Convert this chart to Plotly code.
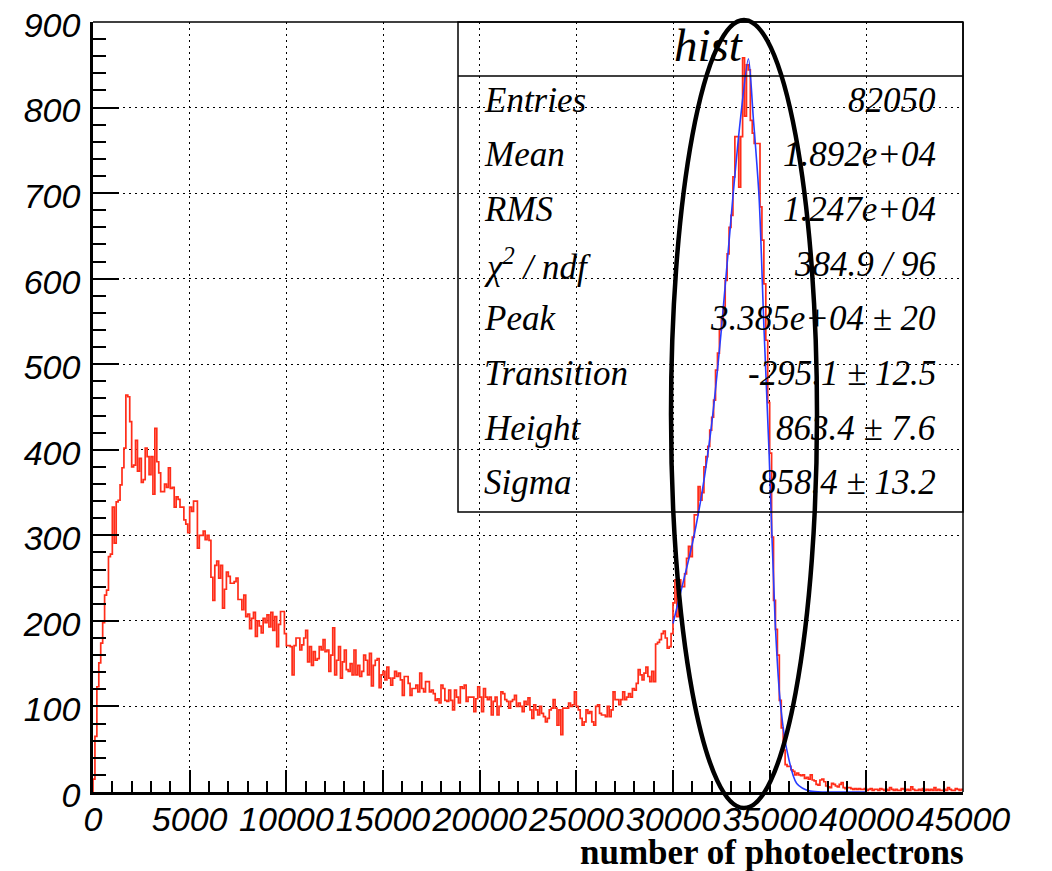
import numpy as np
import plotly.graph_objects as go

# ---------------- data ----------------
bin_width = 100
x_min, x_max = 0, 45000

counts_rise = [15, 65, 123, 151, 174, 198, 230, 236, 275, 278,
               333, 291, 339, 341, 359, 379, 402, 464, 462, 433,
               380, 382, 411, 375, 390, 362, 365, 402, 392, 371,
               392, 348, 425, 386, 373, 351, 351, 360, 356, 379,
               355, 356, 333, 345, 342, 333, 333, 318, 313, 303,
               333, 328, 340, 340, 285, 300, 300, 305, 295, 300,
               294, 251, 224, 265, 270, 250, 265, 215, 237, 257,
               252, 244, 244, 246, 250, 225, 225, 213, 230, 205,
               208, 191, 203, 210, 182, 200, 194, 186, 203, 198,
               207, 193, 210, 189, 205, 170, 196, 211, 211, 185]
counts_plateau = [171, 171, 170, 137, 171, 180, 180, 166, 172, 180,
                  189, 152, 170, 148, 164, 154, 156, 170, 166, 178,
                  164, 166, 141, 160, 192, 137, 154, 170, 133, 152,
                  166, 143, 141, 150, 137, 166, 137, 148, 135, 141,
                  160, 154, 137, 162, 124, 148, 154, 156, 122, 137,
                  141, 131, 146, 133, 125, 133, 141, 135, 139, 131,
                  113, 135, 135, 127, 113, 121, 121, 125, 117, 139,
                  121, 117, 129, 129, 117, 119, 115, 107, 109, 104,
                  125, 121, 107, 106, 119, 107, 96, 119, 111, 104,
                  123, 121, 125, 106, 111, 111, 111, 94, 109, 123]
counts_valley = [111, 94, 121, 111, 108, 111, 90, 106, 111, 90,
                 100, 117, 115, 108, 106, 98, 106, 108, 113, 100,
                 104, 100, 94, 106, 102, 110, 96, 86, 102, 96,
                 90, 100, 92, 88, 82, 86, 96, 98, 108, 98,
                 78, 96, 67, 98, 98, 98, 104, 100, 102, 117,
                 100, 96, 86, 78, 82, 96, 92, 94, 82, 78,
                 100, 102, 92, 90, 90, 88, 100, 88, 96, 117,
                 108, 108, 102, 108, 117, 108, 111, 115, 111, 121,
                 119, 127, 143, 137, 131, 139, 146, 135, 129, 141,
                 129, 173, 175, 178, 185, 188, 180, 168, 170, 185]
counts_peak = [221, 248, 205, 248, 240, 240, 255, 273, 287, 275,
               298, 324, 324, 357, 341, 350, 380, 392, 404, 423,
               438, 458, 493, 513, 540, 552, 567, 598, 629, 660,
               674, 719, 766, 766, 707, 766, 858, 790, 850, 844,
               785, 770, 758, 758, 758, 684, 645, 594, 528, 455,
               396, 298, 224, 190, 160, 107, 75, 49, 32, 30]
counts_tail = [30, 26, 24, 20, 22, 20, 19, 20, 16, 17,
               15, 20, 14, 13, 9, 8, 14, 15, 12, 7,
               6, 5, 10, 9, 7, 6, 9, 11, 5, 4,
               5, 5, 4, 3, 4, 3, 4, 3, 3, 4,
               2, 3, 4, 2, 3, 3, 2, 4, 3, 2,
               3, 2, 5, 3, 2, 3, 2, 2, 4, 3,
               2, 3, 2, 6, 3, 2, 2, 3, 2, 4,
               2, 3, 2, 3, 2, 5, 2, 3, 2, 2,
               3, 2, 5, 3, 2, 2, 4, 3, 2, 3]

fit_x = [30000, 30500, 31000, 31500, 32000, 32500, 33100, 33500, 33900,
         34150, 34450, 34700, 34970, 35280, 35540, 35890, 36400, 37100,
         38000, 39000, 40000]
fit_y = [197, 243, 290, 350, 430, 540, 696, 789, 857,
         789, 696, 545, 396, 201, 107, 49, 10, 1,
         0, 0, 0]

x_ticks = [0, 5000, 10000, 15000, 20000, 25000, 30000, 35000, 40000, 45000]
y_ticks = [0, 100, 200, 300, 400, 500, 600, 700, 800, 900]

stat_labels = ["Entries", "Mean", "RMS", "χ<sup>2</sup> / ndf", "Peak",
               "Transition", "Height", "Sigma"]
stat_values = ["82050", "1.892e+04", "1.247e+04", "384.9 / 96",
               "3.385e+04 ± 20", "-295.1 ± 12.5", "863.4 ± 7.6", "858.4 ± 13.2"]

# ---------------- figure ----------------
counts = counts_rise + counts_plateau + counts_valley + counts_peak + counts_tail
edges = np.arange(x_min, x_max + bin_width, bin_width)
hx = list(edges)
hy = counts + [counts[-1]]

W, H = 1052, 871
ML, MR, MT, MB = 93, 89, 22, 79
PW, PH = W - ML - MR, H - MT - MB


def px(xp):
    return (xp - ML) / PW


def py(yp):
    return (H - MB - yp) / PH


fig = go.Figure()
fig.add_trace(go.Scatter(x=[x_min] + hx, y=[0] + hy, mode="lines",
                         line=dict(shape="hv", color="rgb(255,45,25)", width=1.7),
                         hoverinfo="skip", showlegend=False))
fig.add_trace(go.Scatter(x=fit_x, y=fit_y, mode="lines",
                         line=dict(shape="spline", smoothing=0.8,
                                   color="rgb(40,60,255)", width=1.6),
                         hoverinfo="skip", showlegend=False))

tickfont = dict(family="Liberation Sans, Arial, sans-serif", size=34,
                color="black", style="italic")

fig.update_layout(
    width=W, height=H,
    margin=dict(l=ML, r=MR, t=MT, b=MB, pad=0, autoexpand=False),
    paper_bgcolor="white", plot_bgcolor="white",
    xaxis=dict(range=[x_min, x_max], tickvals=x_ticks,
               ticktext=[str(v) for v in x_ticks], tickangle=0,
               ticks="inside", ticklen=22, tickwidth=1.5, tickcolor="black",
               minor=dict(ticks="inside", ticklen=11, dtick=1000, tick0=0,
                          tickwidth=1.5, tickcolor="black", showgrid=False),
               showgrid=True, gridcolor="black", gridwidth=1, griddash="2px,4px",
               showline=True, linecolor="black", linewidth=2.5,
               tickfont=tickfont, ticklabelstandoff=-5, zeroline=False,
               automargin=False),
    yaxis=dict(range=[0, 900], tickvals=y_ticks,
               ticktext=[str(v) for v in y_ticks],
               ticks="inside", ticklen=26, tickwidth=1.5, tickcolor="black",
               minor=dict(ticks="inside", ticklen=13, dtick=20, tick0=0,
                          tickwidth=1.5, tickcolor="black", showgrid=False),
               showgrid=True, gridcolor="black", gridwidth=1, griddash="2px,4px",
               showline=True, linecolor="black", linewidth=2.5,
               tickfont=tickfont, ticklabelstandoff=3, ticklabelshift=3,
               zeroline=False, automargin=False),
)

shapes = []
# top and right frame lines
shapes.append(dict(type="line", xref="paper", yref="paper", x0=0, x1=1, y0=1, y1=1,
                   line=dict(color="black", width=1.5)))
shapes.append(dict(type="line", xref="paper", yref="paper", x0=1, x1=1, y0=0, y1=1,
                   line=dict(color="black", width=1.5)))
# stats box (transparent)
shapes.append(dict(type="rect", xref="paper", yref="paper",
                   x0=px(458), x1=1, y0=py(512), y1=1,
                   line=dict(color="black", width=1.5), fillcolor="rgba(0,0,0,0)"))
shapes.append(dict(type="line", xref="paper", yref="paper",
                   x0=px(458), x1=1, y0=py(76), y1=py(76),
                   line=dict(color="black", width=1.5)))
# hand-drawn ellipse highlight
shapes.append(dict(type="circle", xref="x domain", yref="y domain",
                   x0=px(671), x1=px(817), y0=py(808), y1=py(20),
                   line=dict(color="black", width=4.5), layer="above"))
fig.update_layout(shapes=shapes)

serif_it = dict(family="Liberation Serif, Times New Roman, serif", size=35,
                color="black", style="italic")
ann = []
ann.append(dict(text="hist", xref="paper", yref="paper", x=px(708), y=py(45),
                xanchor="center", yanchor="middle", showarrow=False,
                font=dict(family="Liberation Serif, Times New Roman, serif",
                          size=47, color="black", style="italic")))
row0, dy = 100, 54.7
for i, (lab, val) in enumerate(zip(stat_labels, stat_values)):
    yc = row0 + i * dy
    ann.append(dict(text=lab, xref="paper", yref="paper", x=px(482), y=py(yc),
                    xanchor="left", yanchor="middle", showarrow=False, font=serif_it))
    ann.append(dict(text=val, xref="paper", yref="paper", x=px(938), y=py(yc),
                    xanchor="right", yanchor="middle", showarrow=False, font=serif_it))
ann.append(dict(text="<b>number of photoelectrons</b>", xref="paper", yref="paper",
                x=px(966), y=py(852), xanchor="right", yanchor="middle",
                showarrow=False,
                font=dict(family="Liberation Serif, Times New Roman, serif",
                          size=35, color="black")))
fig.update_layout(annotations=ann)

fig.write_html("out.html")
